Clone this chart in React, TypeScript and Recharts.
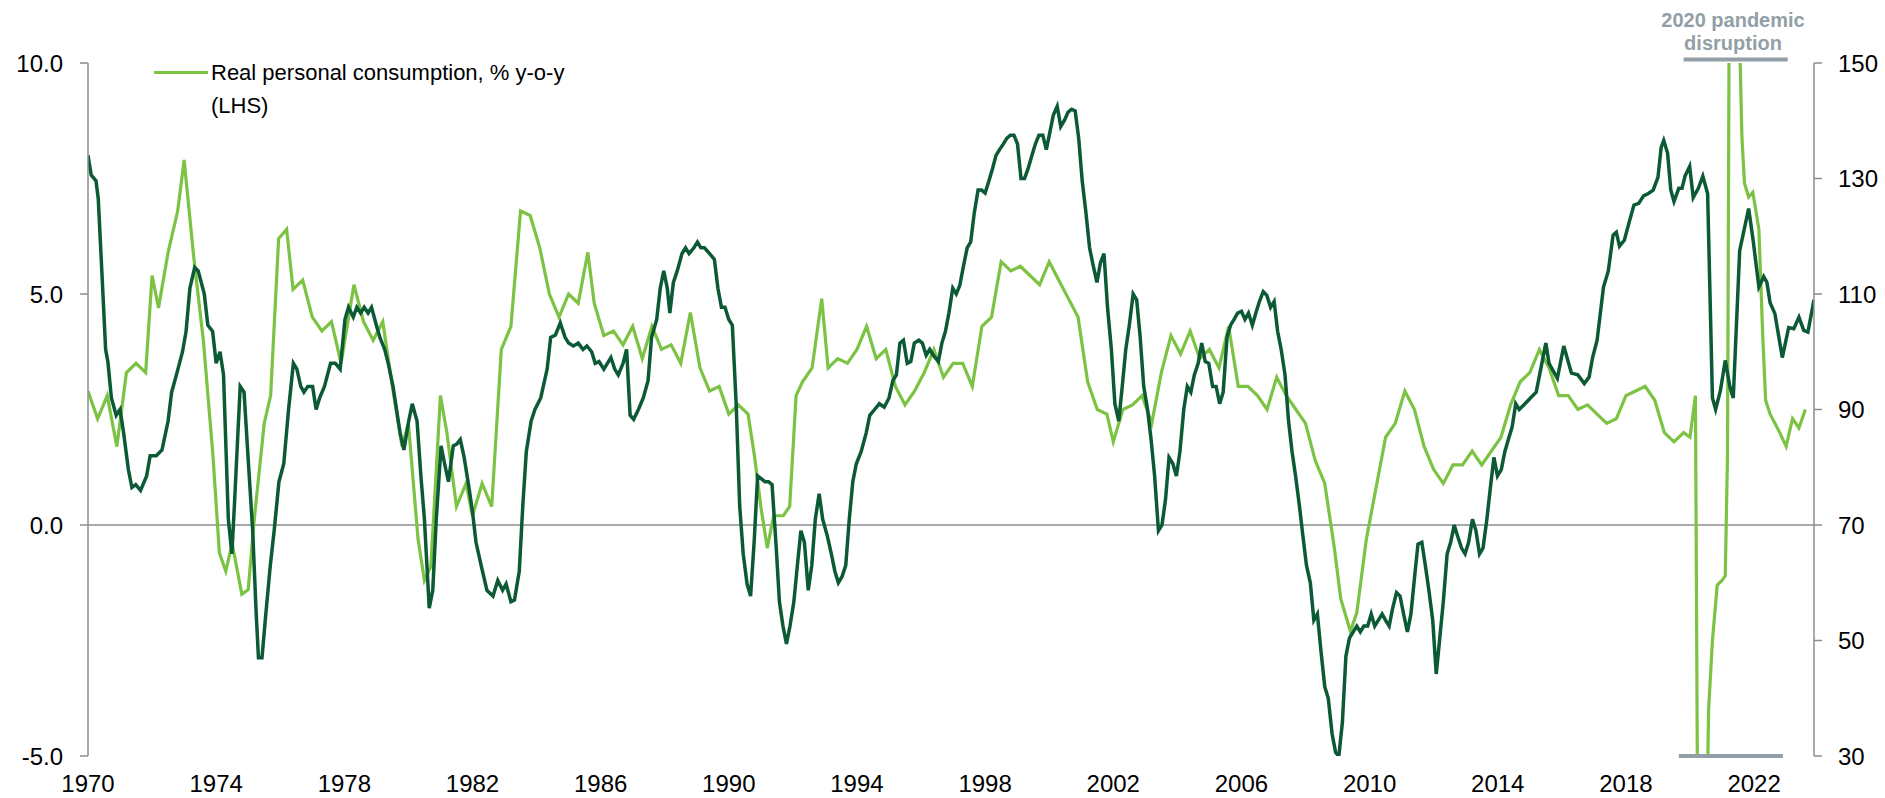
import React from 'react';
import { LineChart, Line, XAxis, YAxis, ReferenceLine } from 'recharts';

const consumptionDates = [1970.0,1970.3,1970.6,1970.9,1971.2,1971.5,1971.8,1972.0,1972.2,1972.5,1972.8,1973.0,1973.3,1973.6,1973.9,1974.1,1974.3,1974.5,1974.8,1975.0,1975.2,1975.5,1975.7,1975.95,1976.2,1976.4,1976.7,1977.0,1977.3,1977.6,1977.9,1978.3,1978.6,1978.9,1979.2,1979.5,1979.8,1980.0,1980.3,1980.5,1980.7,1981.0,1981.2,1981.5,1981.8,1982.0,1982.3,1982.6,1982.9,1983.2,1983.5,1983.8,1984.1,1984.4,1984.7,1985.0,1985.3,1985.6,1985.8,1986.1,1986.4,1986.7,1987.0,1987.3,1987.6,1987.9,1988.2,1988.5,1988.8,1989.1,1989.4,1989.7,1990.0,1990.3,1990.6,1990.8,1991.0,1991.2,1991.4,1991.7,1991.9,1992.1,1992.3,1992.6,1992.9,1993.1,1993.4,1993.7,1994.0,1994.3,1994.6,1994.9,1995.2,1995.5,1995.8,1996.1,1996.4,1996.7,1997.0,1997.3,1997.6,1997.9,1998.2,1998.5,1998.8,1999.1,1999.4,1999.7,2000.0,2000.3,2000.6,2000.9,2001.2,2001.5,2001.8,2002.0,2002.3,2002.6,2002.9,2003.2,2003.5,2003.8,2004.1,2004.4,2004.7,2005.0,2005.3,2005.6,2005.9,2006.2,2006.5,2006.8,2007.1,2007.4,2007.7,2008.0,2008.3,2008.6,2008.9,2009.1,2009.4,2009.6,2009.9,2010.2,2010.5,2010.8,2011.1,2011.4,2011.7,2012.0,2012.3,2012.6,2012.9,2013.2,2013.5,2013.8,2014.1,2014.4,2014.7,2015.0,2015.3,2015.6,2015.9,2016.2,2016.5,2016.8,2017.1,2017.4,2017.7,2018.0,2018.3,2018.6,2018.9,2019.2,2019.5,2019.8,2020.0,2020.17,2020.25,2020.33,2020.45,2020.58,2020.7,2020.85,2021.0,2021.1,2021.17,2021.25,2021.5,2021.62,2021.7,2021.83,2021.96,2022.15,2022.27,2022.36,2022.5,2022.65,2022.8,2023.0,2023.2,2023.4,2023.6];
const consumptionValues = [2.9,2.3,2.8,1.7,3.3,3.5,3.3,5.4,4.7,5.9,6.8,7.9,5.8,4.0,1.5,-0.6,-1.0,-0.4,-1.5,-1.4,0.2,2.2,2.8,6.2,6.4,5.1,5.3,4.5,4.2,4.4,3.5,5.2,4.4,4.0,4.4,3.0,1.7,2.2,-0.3,-1.2,-0.9,2.8,2.0,0.4,0.9,0.2,0.9,0.4,3.8,4.3,6.8,6.7,6.0,5.0,4.5,5.0,4.8,5.9,4.8,4.1,4.2,3.9,4.3,3.6,4.3,3.8,3.9,3.5,4.6,3.4,2.9,3.0,2.4,2.6,2.4,1.5,0.4,-0.5,0.2,0.2,0.4,2.8,3.1,3.4,4.9,3.4,3.6,3.5,3.8,4.3,3.6,3.8,3.0,2.6,2.9,3.3,3.8,3.2,3.5,3.5,3.0,4.3,4.5,5.7,5.5,5.6,5.4,5.2,5.7,5.3,4.9,4.5,3.1,2.5,2.4,1.8,2.5,2.6,2.8,2.2,3.3,4.1,3.7,4.2,3.6,3.8,3.4,4.3,3.0,3.0,2.8,2.5,3.2,2.8,2.5,2.2,1.4,0.9,-0.5,-1.6,-2.3,-1.9,-0.3,0.8,1.9,2.2,2.9,2.5,1.7,1.2,0.9,1.3,1.3,1.6,1.3,1.6,1.9,2.6,3.1,3.3,3.8,3.4,2.8,2.8,2.5,2.6,2.4,2.2,2.3,2.8,2.9,3.0,2.7,2.0,1.8,2.0,1.9,2.8,-8,-16,-10,-4,-2.5,-1.3,-1.2,-1.1,1.5,16,12,8.4,7.4,7.1,7.2,6.4,4.1,2.7,2.4,2.2,2.0,1.7,2.3,2.1,2.5];

const confidenceDates = [1970.0,1970.1,1970.25,1970.32,1970.44,1970.55,1970.62,1970.73,1970.88,1971.0,1971.11,1971.26,1971.37,1971.49,1971.64,1971.83,1971.94,1972.13,1972.31,1972.5,1972.61,1972.76,1972.95,1973.06,1973.18,1973.33,1973.44,1973.63,1973.74,1973.89,1974.0,1974.12,1974.23,1974.38,1974.49,1974.57,1974.75,1974.87,1975.02,1975.14,1975.25,1975.32,1975.43,1975.55,1975.69,1975.81,1975.96,1976.11,1976.26,1976.41,1976.52,1976.64,1976.74,1976.86,1977.01,1977.12,1977.23,1977.38,1977.57,1977.72,1977.87,1978.02,1978.13,1978.28,1978.39,1978.51,1978.62,1978.74,1978.85,1979.0,1979.11,1979.26,1979.37,1979.52,1979.63,1979.74,1979.86,1980.01,1980.12,1980.27,1980.39,1980.5,1980.65,1980.76,1980.87,1981.02,1981.13,1981.25,1981.4,1981.51,1981.62,1981.74,1981.89,1982.0,1982.11,1982.27,1982.45,1982.64,1982.79,1982.94,1983.05,1983.2,1983.31,1983.46,1983.57,1983.68,1983.83,1983.95,1984.13,1984.33,1984.44,1984.59,1984.74,1984.89,1985.0,1985.15,1985.3,1985.45,1985.57,1985.72,1985.83,1985.95,1986.1,1986.21,1986.32,1986.44,1986.55,1986.7,1986.81,1986.92,1987.03,1987.18,1987.33,1987.48,1987.59,1987.75,1987.86,1987.97,1988.08,1988.16,1988.27,1988.39,1988.54,1988.65,1988.76,1988.91,1989.02,1989.13,1989.24,1989.4,1989.55,1989.66,1989.77,1989.88,1990.0,1990.11,1990.23,1990.34,1990.45,1990.57,1990.68,1990.79,1990.9,1991.02,1991.13,1991.24,1991.35,1991.47,1991.58,1991.69,1991.8,1991.91,1992.03,1992.14,1992.25,1992.36,1992.48,1992.59,1992.7,1992.82,1992.93,1993.08,1993.2,1993.31,1993.42,1993.53,1993.65,1993.76,1993.87,1993.98,1994.13,1994.29,1994.4,1994.55,1994.7,1994.85,1995.0,1995.12,1995.23,1995.34,1995.45,1995.57,1995.68,1995.79,1995.93,1996.04,1996.16,1996.27,1996.38,1996.54,1996.65,1996.76,1996.87,1996.99,1997.1,1997.21,1997.33,1997.44,1997.55,1997.66,1997.78,1997.89,1998.0,1998.12,1998.23,1998.34,1998.45,1998.57,1998.68,1998.79,1998.9,1999.01,1999.12,1999.23,1999.34,1999.46,1999.57,1999.68,1999.8,1999.91,2000.02,2000.13,2000.25,2000.36,2000.47,2000.59,2000.7,2000.81,2000.92,2001.03,2001.14,2001.26,2001.37,2001.49,2001.6,2001.71,2001.82,2001.94,2002.05,2002.17,2002.28,2002.39,2002.5,2002.62,2002.73,2002.84,2002.95,2003.07,2003.18,2003.29,2003.41,2003.52,2003.63,2003.74,2003.86,2003.97,2004.08,2004.2,2004.31,2004.42,2004.53,2004.65,2004.76,2004.87,2004.98,2005.1,2005.21,2005.32,2005.43,2005.55,2005.66,2005.77,2005.88,2006.0,2006.11,2006.22,2006.34,2006.45,2006.56,2006.68,2006.79,2006.91,2007.02,2007.13,2007.24,2007.36,2007.47,2007.58,2007.69,2007.81,2007.92,2008.03,2008.15,2008.26,2008.37,2008.48,2008.6,2008.71,2008.83,2008.94,2009.04,2009.15,2009.26,2009.37,2009.49,2009.6,2009.71,2009.82,2009.94,2010.05,2010.16,2010.27,2010.39,2010.5,2010.61,2010.72,2010.84,2010.95,2011.06,2011.18,2011.29,2011.4,2011.51,2011.63,2011.74,2011.85,2011.97,2012.08,2012.19,2012.3,2012.42,2012.53,2012.64,2012.75,2012.87,2012.98,2013.09,2013.21,2013.32,2013.43,2013.54,2013.66,2013.77,2013.88,2013.99,2014.11,2014.22,2014.33,2014.45,2014.56,2014.67,2014.85,2015.02,2015.2,2015.5,2015.6,2015.86,2016.06,2016.3,2016.5,2016.7,2016.85,2016.96,2017.1,2017.3,2017.45,2017.6,2017.7,2017.8,2017.95,2018.1,2018.25,2018.4,2018.55,2018.7,2018.85,2019.0,2019.1,2019.18,2019.3,2019.4,2019.5,2019.65,2019.75,2019.85,2019.99,2020.1,2020.26,2020.4,2020.55,2020.7,2020.8,2020.95,2021.1,2021.25,2021.35,2021.55,2021.83,2021.97,2022.15,2022.3,2022.4,2022.5,2022.65,2022.88,2023.08,2023.24,2023.4,2023.55,2023.68,2023.87];
const confidenceValues = [134,130.6,129.6,126.5,113,100.4,98.3,92,89,90,86,79.6,76.5,77,76,78.5,82,82,83,88,93,96,100,103.5,111,114.6,114,110,104.6,103.5,98,100,96,71,65,73.5,94,93,79.6,69,54.6,47,47,54.6,63,69,77.5,80.6,90,98,97,94,93,94,94,90,92,94,98,98,97,105.6,107.7,106,107.7,106.7,107.7,106.7,107.7,104.6,102.5,100.4,98,94,90,86,83,88,91,88,78.5,71,55.6,58.7,71,83.7,80.6,77.5,83.7,84,84.8,81.7,76.5,72.3,67,63,58.7,57.7,60.4,58.7,59.8,56.7,57,62,73.3,82.7,88,90,92,97,102.5,102.9,105,102.5,101.5,101,101.5,100.4,101,100,98,98.3,97,98,99,97,96,98,100.4,89,88.3,90,92,95,102.5,105.6,111,114,111,106.7,112,114,117,118,117,118,119,118,118,117,116,111,107.7,107.7,105.6,104.6,91,73.3,65,59.8,57.7,67,78.5,78,77.5,77.5,77,67,56.7,52.5,49.4,52.5,56.7,63,69,67,58.7,63,71,75.4,71,68,65,62,60,61,63,71,77.5,80.6,82.7,86,89,90,91,90.4,92,95,96,101.5,102,98,98.3,101.5,102,101.5,99.4,100.4,99.4,98.3,101.5,103.5,106.7,111,110,111.5,115,118,119,124,128,128,127.5,129.6,131.7,134,135,136,137,137.5,137.5,136,130,130,131.7,134,136,137.5,137.5,135,138,141,142.5,139,140,141.5,142,141.7,137,129.6,124.4,118,115,112,115.4,117,107.7,100.4,91,88,94,100.4,104.6,110,109,102.5,94,90,84.8,78.5,69,70,74.4,81.7,80.6,78.5,82.7,90,94,93,96,98,101.5,98.3,98,94,94,91,93,102.5,104.6,105.6,106.7,107,105.6,106.7,104.6,106.7,108.7,110.4,109.8,107.7,108.7,103.5,100.4,96,88,82.7,78.5,73.3,68,63,60,53.5,54.6,48.3,42,40,33.8,30.6,30,35.8,47.3,50.4,51.5,52.5,51.5,52.5,52.5,54.6,52.5,53.5,54.6,53.5,52.5,55.6,58.3,57.7,54.6,51.5,54.6,60.8,66.7,67,63,58.7,53.5,44.2,50.4,56.7,65,67,70,68,66,65,67,71,69,65,66,71,76.5,81.7,78.5,79.6,82.7,84.8,87,91,90,91,92,93,101.5,98,95.4,101,96.3,96,94.5,95.6,99,102,111.2,114,120.2,120.7,118.3,119.3,122.4,125.4,125.7,127,127.4,128,130.2,135.4,136.6,134.4,128,126,128.3,128.3,130.5,132.1,126.7,128.3,130.4,127.4,92,90,93.3,98.5,93.8,92,117.5,124.8,119.3,111.2,113,112,108.5,106.6,99,104.2,104,106,103.7,103.4,109];

const yearTicks = [1970,1974,1978,1982,1986,1990,1994,1998,2002,2006,2010,2014,2018,2022];
const lhsTicks = [-5,0,5,10];
const rhsTicks = [30,50,70,90,110,130,150];
const pandemicTopSpan = [2019.8, 2023.05];
const pandemicBottomSpan = [2019.65, 2022.9];

const consumptionData = consumptionDates.map((d, i) => ({ x: d, v: consumptionValues[i] }));
const confidenceData = confidenceDates.map((d, i) => ({ x: d, v: confidenceValues[i] }));

const FONT = '"Liberation Sans", Arial, Helvetica, sans-serif';
const AXIS_GREY = '#8c8c8c';
const LIGHT = '#7cc243';
const DARK = '#0b5a35';
const NOTE_GREY = '#939fa7';

export default function App() {
  return (
    <div style={{ position: 'absolute', left: 0, top: 0, width: 1885, height: 798, background: '#fff', fontFamily: FONT }}>
      <LineChart width={1885} height={798} margin={{ top: 63, right: 0, bottom: 0, left: 0 }}>
        <XAxis
          dataKey="x"
          type="number"
          domain={[1970, 2023.87]}
          ticks={yearTicks}
          axisLine={false}
          tickLine={false}
          tickSize={0}
          tickMargin={19}
          height={42}
          allowDataOverflow
          interval={0}
          tick={{ fontSize: 24, fill: '#000', fontFamily: FONT }}
        />
        <YAxis
          yAxisId="left"
          orientation="left"
          width={88}
          domain={[-5, 10]}
          ticks={lhsTicks}
          allowDataOverflow
          interval={0}
          tickFormatter={(v) => Number(v).toFixed(1)}
          axisLine={{ stroke: AXIS_GREY, strokeWidth: 1.5 }}
          tickLine={{ stroke: AXIS_GREY, strokeWidth: 1.5 }}
          tickSize={8}
          tickMargin={17}
          tick={{ fontSize: 24, fill: '#000', fontFamily: FONT }}
        />
        <YAxis
          yAxisId="right"
          orientation="right"
          width={71}
          domain={[30, 150]}
          ticks={rhsTicks}
          allowDataOverflow
          interval={0}
          axisLine={{ stroke: AXIS_GREY, strokeWidth: 1.5 }}
          tickLine={{ stroke: AXIS_GREY, strokeWidth: 1.5 }}
          tickSize={8}
          tickMargin={16}
          tick={{ fontSize: 24, fill: '#000', fontFamily: FONT }}
        />
        <ReferenceLine yAxisId="left" y={0} stroke={AXIS_GREY} strokeWidth={1.5} />
        <Line
          yAxisId="left"
          data={consumptionData}
          dataKey="v"
          type="linear"
          stroke={LIGHT}
          strokeWidth={3.2}
          dot={false}
          activeDot={false}
          isAnimationActive={false}
        />
        <Line
          yAxisId="right"
          data={confidenceData}
          dataKey="v"
          type="linear"
          stroke={DARK}
          strokeWidth={3.5}
          dot={false}
          activeDot={false}
          isAnimationActive={false}
        />
        <ReferenceLine
          yAxisId="right"
          segment={[{ x: pandemicTopSpan[0], y: 150.6 }, { x: pandemicTopSpan[1], y: 150.6 }]}
          stroke={NOTE_GREY}
          strokeWidth={4}
          ifOverflow="visible"
        />
        <ReferenceLine
          yAxisId="right"
          segment={[{ x: pandemicBottomSpan[0], y: 30 }, { x: pandemicBottomSpan[1], y: 30 }]}
          stroke={NOTE_GREY}
          strokeWidth={4}
          ifOverflow="visible"
        />
      </LineChart>
      <div style={{ position: 'absolute', left: 154, top: 70.5, width: 54, height: 3.5, background: LIGHT }} />
      <div style={{ position: 'absolute', left: 211, top: 56, fontSize: 22, lineHeight: '33px', color: '#000', whiteSpace: 'nowrap' }}>
        Real personal consumption, % y-o-y<br />(LHS)
      </div>
      <div style={{ position: 'absolute', left: 1623, top: 9, width: 220, textAlign: 'center', fontSize: 20, lineHeight: '23px', fontWeight: 700, color: NOTE_GREY }}>
        <div>2020 pandemic</div>
        <div>disruption</div>
      </div>
    </div>
  );
}
